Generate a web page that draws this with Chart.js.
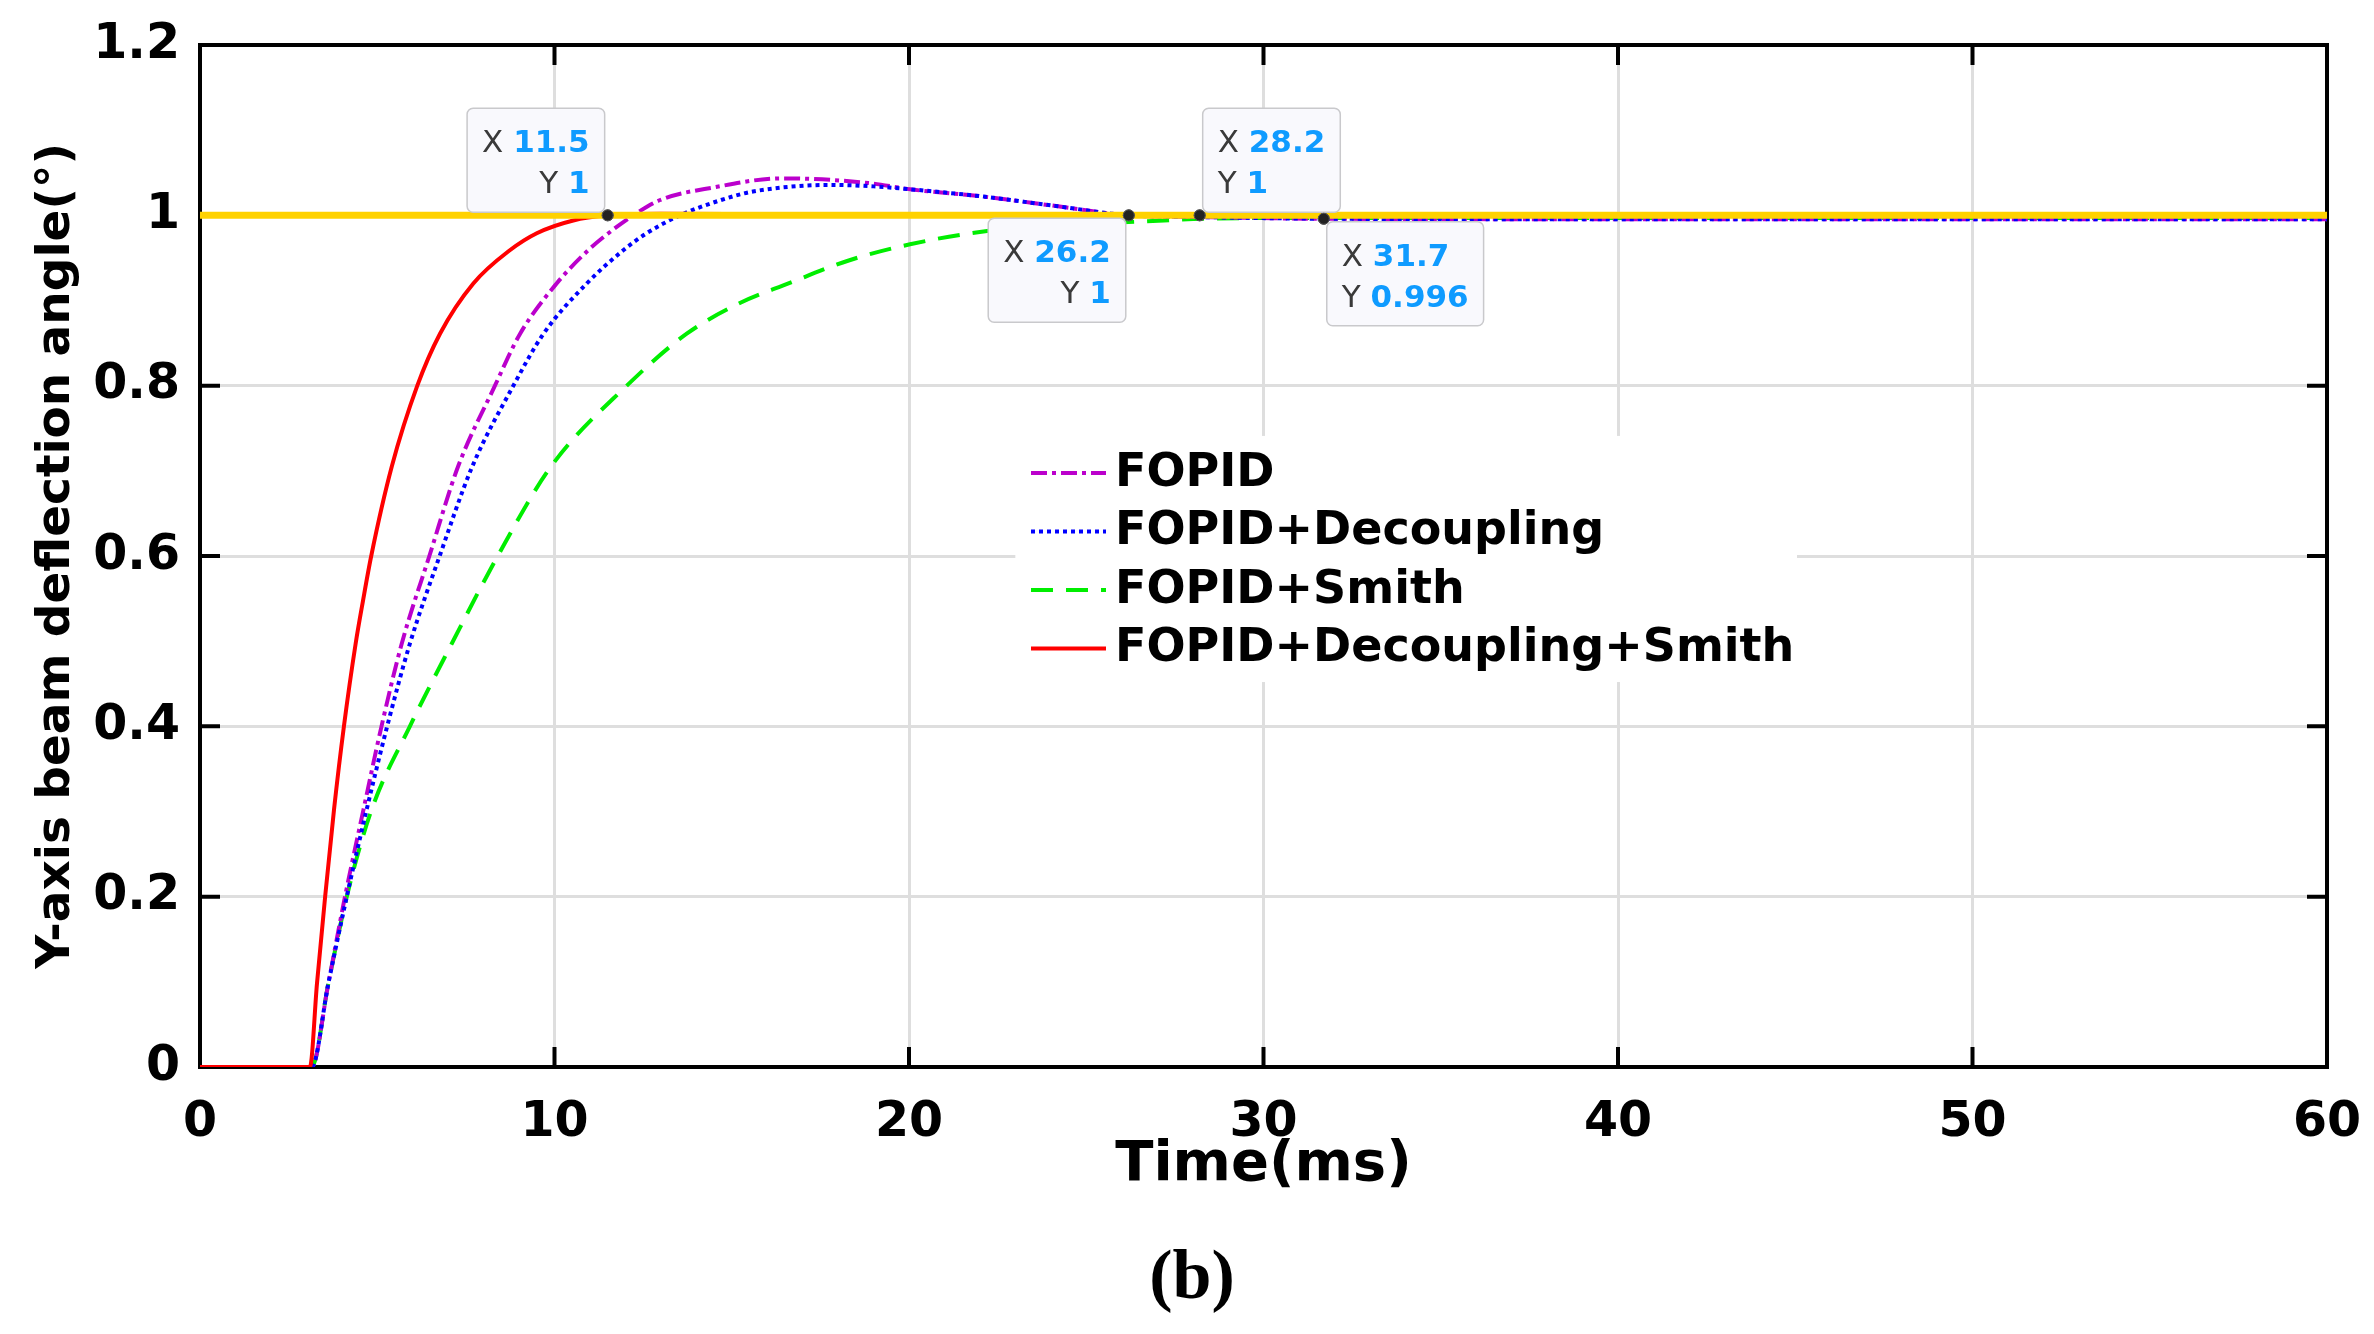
<!DOCTYPE html>
<html><head><meta charset="utf-8">
<script src="https://cdn.jsdelivr.net/npm/chart.js@4.4.1/dist/chart.umd.min.js"></script>
<style>html,body{margin:0;padding:0;background:#fff}canvas{display:block}</style>
</head><body>
<canvas id="c" width="2374" height="1334" style="width:2374px;height:1334px"></canvas>
<script>
// ---- data ----
const seriesNames = ['FOPID', 'FOPID+Decoupling', 'FOPID+Smith', 'FOPID+Decoupling+Smith'];

const timeFopid = [0, 3.15, 3.62, 4.09, 4.61, 5.12, 5.69, 6.47, 7.28, 8.32, 9.03, 10.06, 10.95, 11.52, 12.22, 12.98, 14.52, 16.4, 18.85, 20.03, 22.1, 24.2, 26.2, 28.2, 31.7, 40, 60];
const valFopid  = [0, 0, 0.098, 0.2, 0.302, 0.4, 0.497, 0.6, 0.705, 0.8, 0.861, 0.92, 0.959, 0.979, 1.0, 1.018, 1.033, 1.0434, 1.038, 1.0306, 1.022, 1.0106, 1.0, 0.998, 0.996, 0.9955, 0.9955];

const timeDec = [0, 3.15, 3.62, 4.14, 4.70, 5.28, 5.92, 6.76, 7.68, 8.84, 9.69, 10.91, 11.94, 12.6, 13.54, 14.7, 15.6, 17.8, 19.0, 20.03, 22.1, 24.2, 26.2, 28.2, 31.7, 40, 60];
const valDec  = [0, 0, 0.098, 0.2, 0.302, 0.4, 0.497, 0.6, 0.705, 0.8, 0.861, 0.92, 0.959, 0.979, 1.0, 1.018, 1.028, 1.0357, 1.034, 1.0306, 1.022, 1.0106, 1.0, 0.998, 0.996, 0.9955, 0.9955];

const timeSmith = [0, 3.15, 3.62, 4.14, 4.84, 5.92, 7.10, 8.36, 9.9, 12.04, 13.73, 15.23, 16.6, 18.3, 20.03, 22.1, 24.2, 26.7, 28.3, 32, 40, 60];
const valSmith  = [0, 0, 0.098, 0.2, 0.302, 0.4, 0.497, 0.597, 0.705, 0.8, 0.861, 0.897, 0.92, 0.947, 0.966, 0.981, 0.988, 0.993, 0.996, 0.997, 0.997, 0.997];

const timeDecSmith = [0, 3.1, 3.3, 3.53, 3.78, 4.06, 4.39, 4.6, 4.83, 5.41, 6.13, 6.77, 7.71, 8.74, 9.50, 10.53, 11.5, 13, 16, 20, 60];
const valDecSmith  = [0, 0, 0.098, 0.2, 0.302, 0.4, 0.497, 0.548, 0.6, 0.705, 0.8, 0.861, 0.92, 0.959, 0.979, 0.994, 1.0, 1.002, 1.001, 1.0, 1.0];

const refTime = [0, 60];
const refVal  = [1, 1];

const tipX = [11.5, 26.2, 28.2, 31.7];
const tipY = [1, 1, 1, 0.996];

const xTickLabels = ['0', '10', '20', '30', '40', '50', '60'];
const yTickLabels = ['0', '0.2', '0.4', '0.6', '0.8', '1', '1.2'];
const xTitle = 'Time(ms)';
const yTitle = 'Y-axis beam deflection angle(°)';
const caption = '(b)';

// ---- helpers ----
const pts = (t, v) => t.map((x, i) => ({x: x, y: v[i]}));
const SANS = 'DejaVu Sans';

const curveStyle = {
  'FOPID': {borderColor: '#BB00CC', borderDash: [16, 5, 4, 5]},
  'FOPID+Decoupling': {borderColor: '#0000FF', borderDash: [4, 4]},
  'FOPID+Smith': {borderColor: '#00EE00', borderDash: [22, 13]},
  'FOPID+Decoupling+Smith': {borderColor: '#FF0000', borderDash: []}
};
function curve(name, t, v) {
  return Object.assign({
    label: name, data: pts(t, v), borderWidth: 4, pointRadius: 0,
    cubicInterpolationMode: 'monotone', fill: false
  }, curveStyle[name]);
}

const datasets = [
  {label: 'tips', data: pts(tipX, tipY), showLine: false, pointRadius: 5.5,
   pointBackgroundColor: '#222', pointBorderColor: '#555', pointBorderWidth: 1},
  {label: 'reference', data: pts(refTime, refVal), borderColor: '#FFD200', borderWidth: 7, pointRadius: 0},
  curve(seriesNames[3], timeDecSmith, valDecSmith),
  curve(seriesNames[1], timeDec, valDec),
  curve(seriesNames[0], timeFopid, valFopid),
  curve(seriesNames[2], timeSmith, valSmith)
];

// ---- plugins ----
const framePlugin = {
  id: 'frame',
  beforeDatasetsDraw(chart) {
    const {ctx, chartArea: a, scales: {x, y}} = chart;
    ctx.save();
    ctx.strokeStyle = '#000';
    ctx.lineWidth = 4;
    const L = 20;
    ctx.beginPath();
    x.ticks.forEach(t => {
      const px = x.getPixelForValue(t.value);
      if (px <= a.left + 2 || px >= a.right - 2) return;
      ctx.moveTo(px, a.bottom); ctx.lineTo(px, a.bottom - L);
      ctx.moveTo(px, a.top); ctx.lineTo(px, a.top + L);
    });
    y.ticks.forEach(t => {
      const py = y.getPixelForValue(t.value);
      if (py <= a.top + 2 || py >= a.bottom - 2) return;
      ctx.moveTo(a.left, py); ctx.lineTo(a.left + L, py);
      ctx.moveTo(a.right, py); ctx.lineTo(a.right - L, py);
    });
    ctx.stroke();
    ctx.strokeRect(a.left, a.top, a.right - a.left, a.bottom - a.top);
    ctx.restore();
  }
};

const legendPlugin = {
  id: 'insideLegend',
  afterDatasetsDraw(chart, args, opts) {
    const {ctx, scales: {x, y}} = chart;
    ctx.save();
    const bx = x.getPixelForValue(opts.boxX0), bx1 = x.getPixelForValue(opts.boxX1);
    const by = y.getPixelForValue(opts.boxY0), by1 = y.getPixelForValue(opts.boxY1);
    ctx.fillStyle = '#fff';
    ctx.fillRect(bx, by, bx1 - bx, by1 - by);
    ctx.font = 'bold 46px "' + SANS + '"';
    ctx.textBaseline = 'middle';
    ctx.textAlign = 'left';
    seriesNames.forEach((name, i) => {
      const ds = chart.data.datasets.find(d => d.label === name);
      const cy = opts.firstRow + i * opts.rowGap;
      ctx.strokeStyle = ds.borderColor;
      ctx.lineWidth = 4;
      ctx.setLineDash(ds.borderDash || []);
      ctx.beginPath();
      ctx.moveTo(opts.lineX0, cy); ctx.lineTo(opts.lineX0 + opts.lineLen, cy);
      ctx.stroke();
      ctx.setLineDash([]);
      ctx.fillStyle = '#000';
      ctx.fillText(name, opts.lineX0 + opts.lineLen + 9, cy + 1);
    });
    ctx.restore();
  }
};

const tipPlugin = {
  id: 'datatips',
  afterDatasetsDraw(chart, args, opts) {
    const {ctx, scales: {x, y}} = chart;
    ctx.save();
    const fLab = '31px "' + SANS + '"';
    const fVal = 'bold 31px "' + SANS + '"';
    tipX.forEach((tx, i) => {
      const px = x.getPixelForValue(tx), py = y.getPixelForValue(tipY[i]);
      const lines = [['X ', String(tx)], ['Y ', String(tipY[i])]];
      const widths = lines.map(l => {
        ctx.font = fLab; const a = ctx.measureText(l[0]).width;
        ctx.font = fVal; const b = ctx.measureText(l[1]).width;
        return [a, b];
      });
      const W = Math.max(...widths.map(w => w[0] + w[1])) + 30;
      const H = 104, gap = 3;
      const anchor = opts.anchors[i];
      const right = anchor.indexOf('right') >= 0;
      const bottom = anchor.indexOf('bottom') >= 0;
      const bx = right ? px - gap - W : px + gap;
      const by = bottom ? py - gap - H : py + gap;
      ctx.beginPath();
      ctx.roundRect(bx, by, W, H, 6);
      ctx.fillStyle = '#F9F9FD';
      ctx.fill();
      ctx.strokeStyle = '#C9C9CC';
      ctx.lineWidth = 1.5;
      ctx.stroke();
      ctx.textBaseline = 'alphabetic';
      lines.forEach((l, k) => {
        const base = by + 44 + k * 41;
        const [wa, wb] = widths[k];
        let xl;
        if (right) { xl = bx + W - 15 - wb - wa; } else { xl = bx + 15; }
        ctx.textAlign = 'left';
        ctx.font = fLab; ctx.fillStyle = '#3A3A3A';
        ctx.fillText(l[0], xl, base);
        ctx.font = fVal; ctx.fillStyle = '#0F9BFF';
        ctx.fillText(l[1], xl + wa, base);
      });
    });
    const meta = chart.getDatasetMeta(0);
    meta.data.forEach(el => el.draw(ctx, chart.chartArea));
    ctx.restore();
  }
};

const captionPlugin = {
  id: 'caption',
  afterDraw(chart, args, opts) {
    const ctx = chart.ctx;
    ctx.save();
    ctx.font = 'bold 70px "Liberation Serif"';
    ctx.fillStyle = '#000';
    ctx.textAlign = 'center';
    ctx.textBaseline = 'middle';
    ctx.fillText(caption, opts.cx, opts.cy);
    ctx.restore();
  }
};

new Chart(document.getElementById('c'), {
  type: 'line',
  data: {datasets: datasets},
  plugins: [framePlugin, legendPlugin, tipPlugin, captionPlugin],
  options: {
    responsive: false, devicePixelRatio: 1, animation: false,
    layout: {padding: {top: 45, right: 47, left: 0, bottom: 97.6}},
    plugins: {
      legend: {display: false},
      tooltip: {enabled: false},
      insideLegend: {boxX0: 23, boxX1: 45.05, boxY0: 0.741, boxY1: 0.452,
        lineX0: 1031, lineLen: 75, firstRow: 473, rowGap: 58.5},
      datatips: {anchors: ['bottom-right', 'top-right', 'bottom-left', 'top-left']},
      caption: {cx: 1192, cy: 1280}
    },
    scales: {
      x: {
        type: 'linear', min: 0, max: 60,
        ticks: {stepSize: 10, padding: 27, color: '#000', maxRotation: 0, autoSkip: false,
          font: {family: SANS, weight: 'bold', size: 49},
          callback: (v, i) => xTickLabels[i]},
        grid: {color: '#DEDEDE', lineWidth: 3, drawTicks: false},
        border: {display: true, color: '#000', width: 4},
        title: {display: true, text: xTitle, color: '#000',
          font: {family: SANS, weight: 'bold', size: 56}, padding: {top: 0, bottom: 37}},
        afterFit: (s) => { s.height = 169.4; s.paddingLeft = 0; s.paddingRight = 0; }
      },
      y: {
        type: 'linear', min: 0, max: 1.2,
        ticks: {stepSize: 0.2, padding: 20, color: '#000',
          font: {family: SANS, weight: 'bold', size: 49},
          callback: (v, i) => yTickLabels[i]},
        grid: {color: '#DEDEDE', lineWidth: 3, drawTicks: false},
        border: {display: true, color: '#000', width: 4},
        title: {display: true, text: yTitle, color: '#000',
          font: {family: SANS, weight: 'bold', size: 47}, padding: {top: 29, bottom: 0}},
        afterFit: (s) => { s.width = 200; s.paddingTop = 0; s.paddingBottom = 0; }
      }
    }
  }
});
</script>
</body></html>
